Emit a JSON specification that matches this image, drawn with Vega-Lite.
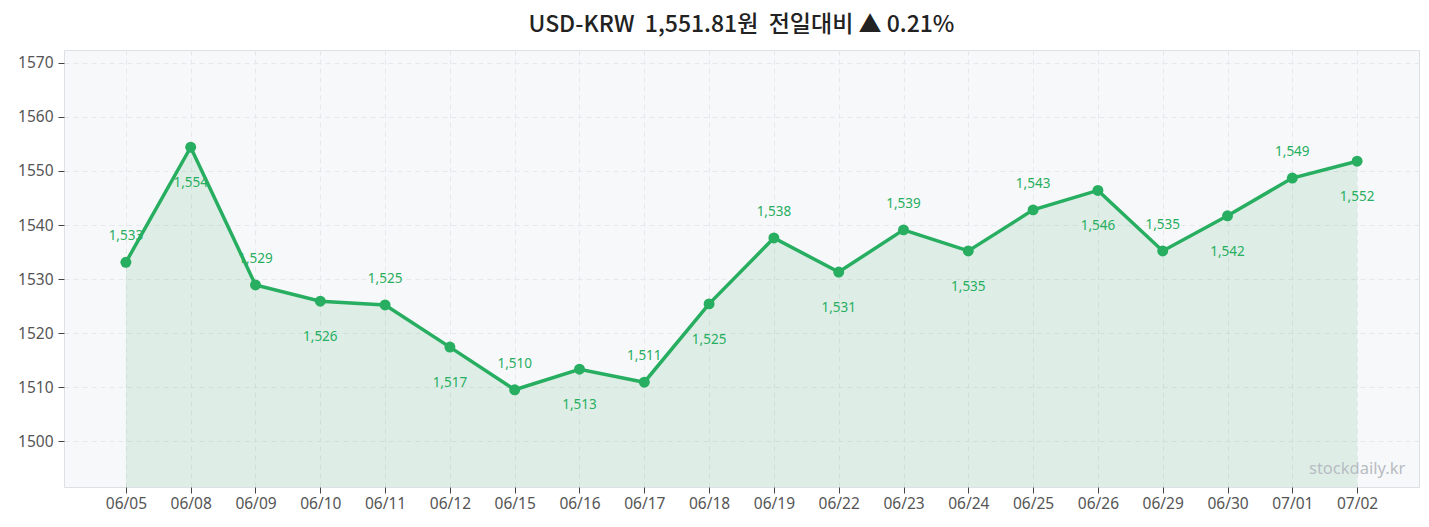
{
  "$schema": "https://vega.github.io/schema/vega-lite/v6.json",
  "autosize": "none",
  "width": 1355,
  "height": 437,
  "padding": {"left": 64, "top": 50, "right": 10, "bottom": 40},
  "background": "#ffffff",
  "title": {
    "text": "USD-KRW\u00a0\u00a01,551.81원\u00a0\u00a0전일대비 ▲ 0.21%",
    "font": "Noto Sans CJK KR",
    "fontSize": 23,
    "fontWeight": 500,
    "color": "#222222",
    "anchor": "middle",
    "offset": 13
  },
  "config": {
    "view": {"fill": "#f7f8fa", "stroke": "#dde1e6", "strokeWidth": 1},
    "axis": {
      "labelFont": "Noto Sans",
      "labelFontSize": 15.5,
      "labelColor": "#555555",
      "tickColor": "#444444",
      "tickSize": 6,
      "domain": false,
      "grid": true,
      "gridColor": "#e6e8ec",
      "gridDash": [5, 4],
      "gridWidth": 1,
      "title": null
    }
  },
  "datasets": {
    "fx": [
      {"date": "06/05", "rate": 1533.1},
      {"date": "06/08", "rate": 1554.4},
      {"date": "06/09", "rate": 1528.9},
      {"date": "06/10", "rate": 1525.9},
      {"date": "06/11", "rate": 1525.2},
      {"date": "06/12", "rate": 1517.4},
      {"date": "06/15", "rate": 1509.5},
      {"date": "06/16", "rate": 1513.3},
      {"date": "06/17", "rate": 1510.9},
      {"date": "06/18", "rate": 1525.4},
      {"date": "06/19", "rate": 1537.6},
      {"date": "06/22", "rate": 1531.3},
      {"date": "06/23", "rate": 1539.1},
      {"date": "06/24", "rate": 1535.2},
      {"date": "06/25", "rate": 1542.8},
      {"date": "06/26", "rate": 1546.4},
      {"date": "06/29", "rate": 1535.2},
      {"date": "06/30", "rate": 1541.7},
      {"date": "07/01", "rate": 1548.7},
      {"date": "07/02", "rate": 1551.81}
    ]
  },
  "data": {"name": "fx"},
  "transform": [
    {"window": [{"op": "row_number", "as": "idx"}]}
  ],
  "encoding": {
    "x": {
      "field": "date",
      "type": "ordinal",
      "sort": null,
      "scale": {"type": "point", "padding": 0.955},
      "axis": {"labelAngle": 0, "labelPadding": 3}
    },
    "y": {
      "field": "rate",
      "type": "quantitative",
      "scale": {"domain": [1491.5, 1572.4], "nice": false, "zero": false},
      "axis": {"values": [1500, 1510, 1520, 1530, 1540, 1550, 1560, 1570], "format": "d", "labelPadding": 5}
    }
  },
  "layer": [
    {
      "mark": {"type": "area", "color": "#27ae60", "opacity": 0.12, "clip": true}
    },
    {
      "mark": {"type": "line", "color": "#27ae60", "strokeWidth": 3.5}
    },
    {
      "mark": {"type": "point", "filled": true, "color": "#27ae60", "size": 120, "opacity": 1}
    },
    {
      "transform": [{"filter": "datum.idx % 2 == 1"}],
      "mark": {"type": "text", "font": "Noto Sans", "fontSize": 13.5, "color": "#27ae60", "baseline": "middle", "dy": -26},
      "encoding": {"text": {"field": "rate", "type": "quantitative", "format": ",.0f"}}
    },
    {
      "transform": [{"filter": "datum.idx % 2 == 0"}],
      "mark": {"type": "text", "font": "Noto Sans", "fontSize": 13.5, "color": "#27ae60", "baseline": "middle", "dy": 36},
      "encoding": {"text": {"field": "rate", "type": "quantitative", "format": ",.0f"}}
    },
    {
      "data": {"values": [{"label": "stockdaily.kr", "date": "07/02", "rate": 1494.8}]},
      "mark": {"type": "text", "font": "Noto Sans", "fontSize": 16.5, "color": "#b8bcc2", "baseline": "middle"},
      "encoding": {"text": {"field": "label"}}
    }
  ]
}
